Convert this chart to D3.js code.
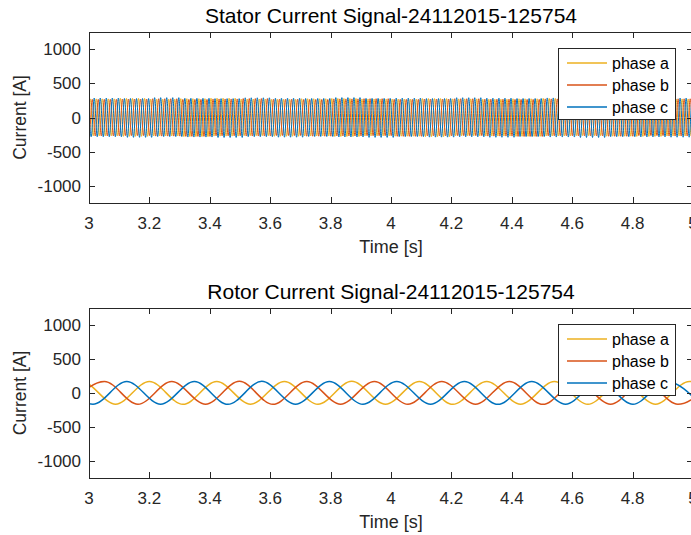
<!DOCTYPE html>
<html>
  <head>
    <title></title>
    <meta charset="UTF-8" />
    <script src="https://cdn.jsdelivr.net/npm/d3@7"></script>
    <style>
      body { margin: 0; background: #fff; }
      svg { display: block; }
    </style>
  </head>
  <body>
    <svg></svg>
    <script>
      // 1. data
      const phases = ['phase a', 'phase b', 'phase c']
      const phaseColors = ['#EDB120', '#D95319', '#0072BD']
      const timeTicks = [3, 3.2, 3.4, 3.6, 3.8, 4, 4.2, 4.4, 4.6, 4.8, 5]
      const currentTicks = [-1000, -500, 0, 500, 1000]

      // stator: 50 Hz, time of first positive peak per phase, peak / trough per 0.1 s window
      const statorFreq = 50
      const statorFirstPeak = [3.004, 3.0107, 3.0173]
      const statorPeakA = [272, 280, 268, 275, 282, 270, 266, 274, 278, 271, 269, 276, 272, 267, 273, 279, 270, 268, 274, 271]
      const statorTroughA = [-268, -275, -270, -279, -272, -266, -274, -270, -277, -269, -273, -280, -268, -271, -275, -270, -266, -273, -276, -270]
      const statorPeakB = [266, 270, 274, 265, 271, 277, 268, 264, 272, 275, 266, 270, 274, 268, 265, 272, 276, 269, 267, 273]
      const statorTroughB = [-270, -265, -272, -276, -268, -271, -264, -273, -270, -267, -275, -269, -266, -272, -277, -268, -270, -274, -265, -271]
      const statorPeakC = [285, 278, 290, 281, 276, 288, 282, 279, 291, 280, 284, 277, 289, 283, 278, 286, 281, 290, 279, 284]
      const statorTroughC = [-282, -290, -279, -286, -292, -281, -288, -278, -285, -291, -280, -287, -283, -289, -279, -286, -292, -281, -284, -288]

      // rotor: ~4.5 Hz, extrema (time, value) per phase
      const rotorTimesA = [2.864, 2.976, 3.088, 3.2, 3.311, 3.423, 3.535, 3.647, 3.758, 3.87, 3.982, 4.094, 4.205, 4.317, 4.429, 4.541, 4.652, 4.764, 4.876, 4.988, 5.099]
      const rotorValuesA = [-166, 168, -165, 170, -167, 168, -164, 169, -166, 171, -165, 168, -167, 170, -164, 168, -166, 169, -165, 170, -166]
      const rotorTimesB = [2.939, 3.051, 3.162, 3.274, 3.386, 3.498, 3.609, 3.721, 3.833, 3.945, 4.056, 4.168, 4.28, 4.392, 4.503, 4.615, 4.727, 4.839, 4.95, 5.062]
      const rotorValuesB = [-165, 170, -166, 168, -164, 171, -167, 169, -165, 168, -166, 170, -164, 169, -167, 168, -165, 170, -166, 169]
      const rotorTimesC = [2.902, 3.013, 3.125, 3.237, 3.349, 3.46, 3.572, 3.684, 3.796, 3.907, 4.019, 4.131, 4.243, 4.354, 4.466, 4.578, 4.69, 4.801, 4.913, 5.025]
      const rotorValuesC = [168, -166, 170, -165, 169, -167, 171, -164, 168, -166, 170, -165, 169, -167, 168, -164, 170, -166, 169, -165]

      // 2. basic setup
      const width = 691
      const height = 535
      const left = 89
      const right = 693
      const font = '"Liberation Sans", Arial, sans-serif'
      const axisColor = '#262626'

      const svg = d3
        .select('svg')
        .attr('width', width)
        .attr('height', height)
        .attr('viewBox', [0, 0, width, height])
        .style('font-family', font)

      const x = d3.scaleLinear([3, 5], [left, right])

      // 3. build series
      const statorSeries = phases.map((name, i) => {
        const peaks = [statorPeakA, statorPeakB, statorPeakC][i]
        const troughs = [statorTroughA, statorTroughB, statorTroughC][i]
        const pts = []
        for (let k = -1; k <= 100; k++) {
          const tp = statorFirstPeak[i] + k / statorFreq
          const seg = Math.max(0, Math.min(19, Math.floor((tp - 3) * 10)))
          pts.push([tp, peaks[seg]])
          pts.push([tp + 0.5 / statorFreq, troughs[seg]])
        }
        return { name, color: phaseColors[i], pts }
      })

      const rotorSeries = phases.map((name, i) => {
        const ts = [rotorTimesA, rotorTimesB, rotorTimesC][i]
        const vs = [rotorValuesA, rotorValuesB, rotorValuesC][i]
        return { name, color: phaseColors[i], pts: ts.map((t, j) => [t, vs[j]]) }
      })

      // 4. draw one panel
      function panel(id, top, bottom, title, series, lineWidth) {
        const y = d3.scaleLinear([-1250, 1250], [bottom, top])
        const g = svg.append('g')

        g.append('clipPath')
          .attr('id', id)
          .append('rect')
          .attr('x', left)
          .attr('y', top)
          .attr('width', right - left)
          .attr('height', bottom - top)

        const line = d3
          .line()
          .x((d) => x(d[0]))
          .y((d) => y(d[1]))
          .curve(d3.curveMonotoneX)

        g.append('g')
          .attr('clip-path', `url(#${id})`)
          .attr('fill', 'none')
          .selectAll('path')
          .data(series)
          .join('path')
          .attr('stroke', (d) => d.color)
          .attr('stroke-width', lineWidth)
          .attr('d', (d) => line(d.pts))

        // box + ticks on all four sides, pointing inward
        const tickLen = 6
        const axes = g.append('g').attr('stroke', axisColor).attr('stroke-width', 1)
        axes.append('rect')
          .attr('x', left + 0.5)
          .attr('y', top + 0.5)
          .attr('width', right - left)
          .attr('height', bottom - top)
          .attr('fill', 'none')
          .attr('stroke', axisColor)
        axes.selectAll('.xt')
          .data(timeTicks)
          .join('path')
          .attr('d', (d) => {
            const px = Math.round(x(d)) + 0.5
            return `M${px},${bottom}v${-tickLen}M${px},${top}v${tickLen}`
          })
        axes.selectAll('.yt')
          .data(currentTicks)
          .join('path')
          .attr('d', (d) => {
            const py = Math.round(y(d)) + 0.5
            return `M${left},${py}h${tickLen}M${right},${py}h${-tickLen}`
          })

        const txt = g.append('g').attr('fill', axisColor).attr('font-size', 17)
        txt.selectAll('.xl')
          .data(timeTicks)
          .join('text')
          .attr('x', (d) => x(d))
          .attr('y', bottom + 26)
          .attr('text-anchor', 'middle')
          .text((d) => d3.format('~g')(d))
        txt.selectAll('.yl')
          .data(currentTicks)
          .join('text')
          .attr('x', left - 8)
          .attr('y', (d) => y(d) + 6)
          .attr('text-anchor', 'end')
          .text((d) => d)

        g.append('text')
          .attr('x', (left + right) / 2)
          .attr('y', bottom + 50)
          .attr('text-anchor', 'middle')
          .attr('font-size', 18)
          .attr('fill', axisColor)
          .text('Time [s]')
        g.append('text')
          .attr('transform', `translate(26,${(top + bottom) / 2}) rotate(-90)`)
          .attr('text-anchor', 'middle')
          .attr('font-size', 17.5)
          .attr('fill', axisColor)
          .text('Current [A]')
        g.append('text')
          .attr('x', (left + right) / 2)
          .attr('y', top - 9.5)
          .attr('text-anchor', 'middle')
          .attr('font-size', 21)
          .attr('fill', '#000')
          .text(title)

        // legend, north east
        const lx = 558
        const ly = top + 16
        const leg = g.append('g')
        leg.append('rect')
          .attr('x', lx + 0.5)
          .attr('y', ly + 0.5)
          .attr('width', 117)
          .attr('height', 71)
          .attr('fill', '#fff')
          .attr('stroke', axisColor)
        const rows = leg.selectAll('.row')
          .data(series)
          .join('g')
          .attr('transform', (d, i) => `translate(${lx},${ly + 15 + i * 22})`)
        rows.append('line')
          .attr('x1', 9)
          .attr('x2', 49)
          .attr('stroke', (d) => d.color)
          .attr('stroke-width', 1.5)
        rows.append('text')
          .attr('x', 54)
          .attr('y', 5.5)
          .attr('font-size', 16)
          .attr('fill', '#000')
          .text((d) => d.name)
      }

      panel('clipTop', 32, 203, 'Stator Current Signal-24112015-125754', statorSeries, 1)
      panel('clipBottom', 308, 478, 'Rotor Current Signal-24112015-125754', rotorSeries, 1.5)
    </script>
  </body>
</html>
